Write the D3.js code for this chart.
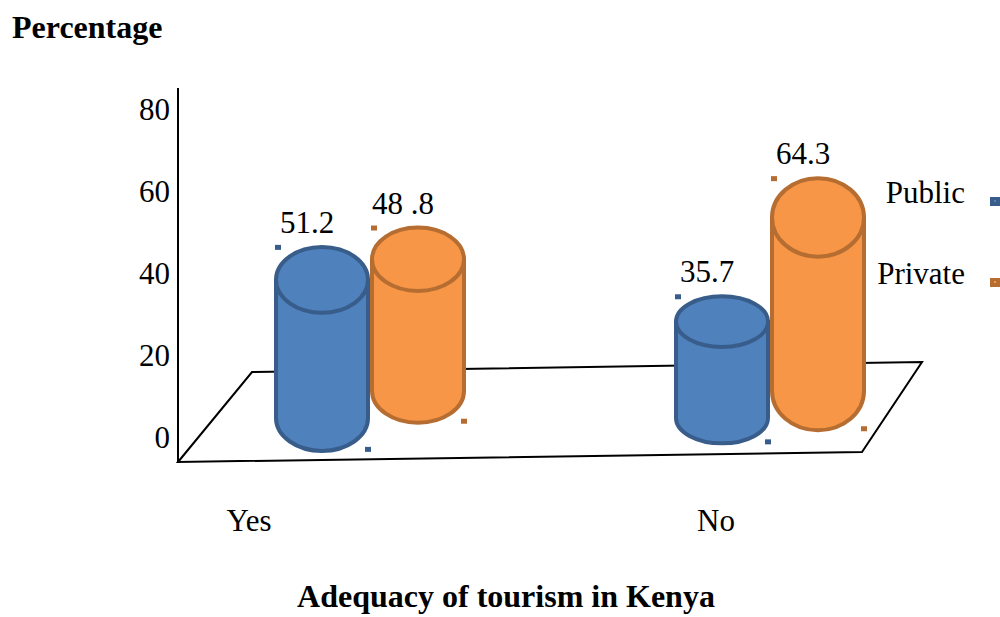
<!DOCTYPE html>
<html>
  <head>
    <meta charset="UTF-8" />
    <style>
      body {
        margin: 0;
        background: #fff;
        font-family: "Liberation Serif", "Times New Roman", serif;
      }
      svg text {
        fill: #000;
      }
    </style>
  </head>
  <body>
    <svg></svg>
    <script src="https://d3js.org/d3.v7.min.js"></script>
    <script>
      // Data
      const categories = ["Yes", "No"];
      const seriesNames = ["Public", "Private"];
      const publicValues = [51.2, 35.7];
      const privateValues = [48.8, 64.3];
      const publicLabels = ["51.2", "35.7"];
      const privateLabels = ["48 .8", "64.3"];
      const yTicks = [0, 20, 40, 60, 80];

      let width = 1000,
        height = 617;

      let svg = d3
        .select("svg")
        .attr("width", width)
        .attr("height", height)
        .attr("viewBox", "0 0 " + width + " " + height);

      let fills = d3.scaleOrdinal().domain(seriesNames).range(["#4f81bd", "#f79646"]);
      let strokes = d3.scaleOrdinal().domain(seriesNames).range(["#385d8a", "#b66d31"]);

      // scales
      let yAxis = d3.scaleLinear().domain([0, 80]).range([438, 110]);
      let hScale = d3.scaleLinear().domain([0, 80]).range([0, 216]);
      let xGroup = d3.scalePoint().domain(categories).range([370, 770]);
      let xSeries = d3.scalePoint().domain(seriesNames).range([-48, 48]);
      let baseY = d3.scaleOrdinal().domain(seriesNames).range([418, 391]);
      let xLabel = d3.scalePoint().domain(categories).range([249, 716]);
      let rx = 46;

      // build rows
      let rows = [];
      categories.forEach((c, i) => {
        rows.push({ cat: c, series: "Public", value: publicValues[i], label: publicLabels[i] });
        rows.push({ cat: c, series: "Private", value: privateValues[i], label: privateLabels[i] });
      });
      rows.forEach((d) => {
        d.cx = xGroup(d.cat) + xSeries(d.series);
        d.base = baseY(d.series);
        d.h = hScale(d.value);
        d.top = d.base - d.h;
        d.ry = 8 + d.h * 0.18; // taller cylinders look tilted more
      });

      // floor
      svg
        .append("path")
        .attr("d", "M178,462L252,372L922,362L862,452Z")
        .attr("fill", "none")
        .attr("stroke", "#000")
        .attr("stroke-width", 2);

      // vertical axis line
      svg
        .append("line")
        .attr("x1", 178)
        .attr("x2", 178)
        .attr("y1", 88)
        .attr("y2", 462)
        .attr("stroke", "#000")
        .attr("stroke-width", 2);

      svg
        .append("g")
        .selectAll("text")
        .data(yTicks)
        .enter()
        .append("text")
        .attr("x", 170)
        .attr("y", (d) => yAxis(d) + 10)
        .attr("text-anchor", "end")
        .attr("font-size", 31)
        .text((d) => d);

      // value labels sit behind cylinders
      svg
        .append("g")
        .selectAll("text")
        .data(rows)
        .enter()
        .append("text")
        .attr("x", (d) => d.cx - 15)
        .attr("y", (d) => d.top - d.ry - 14)
        .attr("text-anchor", "middle")
        .attr("font-size", 31)
        .text((d) => d.label);

      // cylinders
      let cyl = svg.append("g").selectAll("g").data(rows).enter().append("g");

      cyl
        .append("path")
        .attr("d", (d) =>
          "M" + (d.cx - rx) + "," + d.top +
          "L" + (d.cx - rx) + "," + d.base +
          "A" + rx + "," + d.ry + " 0 0,0 " + (d.cx + rx) + "," + d.base +
          "L" + (d.cx + rx) + "," + d.top + "Z"
        )
        .attr("fill", (d) => fills(d.series))
        .attr("stroke", (d) => strokes(d.series))
        .attr("stroke-width", 4)
        .attr("stroke-linejoin", "round");

      cyl
        .append("ellipse")
        .attr("cx", (d) => d.cx)
        .attr("cy", (d) => d.top)
        .attr("rx", rx)
        .attr("ry", (d) => d.ry)
        .attr("fill", (d) => fills(d.series))
        .attr("stroke", (d) => strokes(d.series))
        .attr("stroke-width", 4);

      // small corner handles
      cyl
        .append("rect")
        .attr("x", (d) => d.cx - rx - 1)
        .attr("y", (d) => d.top - d.ry - 2)
        .attr("width", 6)
        .attr("height", 5)
        .attr("fill", (d) => strokes(d.series));
      cyl
        .append("rect")
        .attr("x", (d) => d.cx + rx - 3)
        .attr("y", (d) => d.base + d.ry - 4)
        .attr("width", 6)
        .attr("height", 5)
        .attr("fill", (d) => strokes(d.series));

      // category labels
      svg
        .append("g")
        .selectAll("text")
        .data(categories)
        .enter()
        .append("text")
        .attr("x", (d) => xLabel(d))
        .attr("y", 531)
        .attr("text-anchor", "middle")
        .attr("font-size", 31)
        .text((d) => d);

      // legend
      let legendY = d3.scalePoint().domain(seriesNames).range([203, 284]);
      let lg = svg.append("g").selectAll("g").data(seriesNames).enter().append("g");
      lg.append("text")
        .attr("x", 965)
        .attr("y", (d) => legendY(d))
        .attr("text-anchor", "end")
        .attr("font-size", 31)
        .text((d) => d);
      lg.append("rect")
        .attr("x", 990)
        .attr("y", (d) => legendY(d) - 6)
        .attr("width", 11)
        .attr("height", 9)
        .attr("fill", (d) => strokes(d));
      lg.append("rect")
        .attr("x", 994)
        .attr("y", (d) => legendY(d) - 3)
        .attr("width", 2)
        .attr("height", 2)
        .attr("fill", (d) => fills(d));

      // titles
      svg
        .append("text")
        .attr("x", 12)
        .attr("y", 38)
        .attr("font-size", 32)
        .attr("font-weight", "bold")
        .text("Percentage");

      svg
        .append("text")
        .attr("x", 506)
        .attr("y", 607)
        .attr("text-anchor", "middle")
        .attr("font-size", 32)
        .attr("font-weight", "bold")
        .text("Adequacy of tourism in Kenya");
    </script>
  </body>
</html>
